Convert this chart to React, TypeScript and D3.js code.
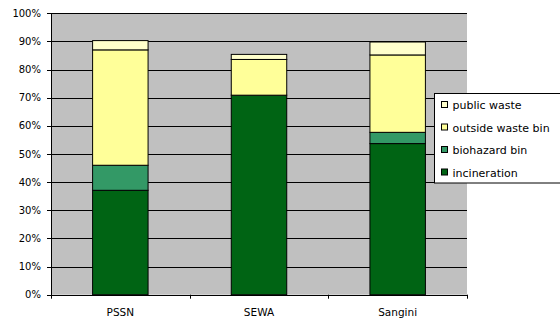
import React from "react";
import * as d3 from "d3";

const categories = ["PSSN", "SEWA", "Sangini"];
const seriesNames = ["incineration", "biohazard bin", "outside waste bin", "public waste"];
const incineration = [37.1, 70.9, 53.7];
const biohazardBin = [8.9, 0, 4.0];
const outsideWasteBin = [41.0, 12.7, 27.5];
const publicWaste = [3.3, 1.8, 4.6];
const yTicks = [0, 10, 20, 30, 40, 50, 60, 70, 80, 90, 100];
const colors = ["#006414", "#339966", "#FFFF99", "#FFFFCC"];

export default function App() {
  const W = 560, H = 320;
  const left = 51, right = 467, top = 13.3, bottom = 294.7;
  const x = d3.scaleBand<string>().domain(categories).range([left, right]).paddingInner(0.6).paddingOuter(0.3);
  const y = d3.scaleLinear().domain([0, 100]).range([bottom, top]);
  const rows = categories.map((c, i) => ({
    cat: c,
    incineration: incineration[i],
    "biohazard bin": biohazardBin[i],
    "outside waste bin": outsideWasteBin[i],
    "public waste": publicWaste[i],
  }));
  const stack = d3.stack<any>().keys(seriesNames)(rows);
  const step = (right - left) / categories.length;
  const font = "'DejaVu Sans', Verdana, sans-serif";
  const legendOrder = [3, 2, 1, 0];
  return (
    <svg width={W} height={H} style={{ position: "absolute", left: 0, top: 0 }} fontFamily={font}>
      <rect x={0} y={0} width={W} height={H} fill="#fff" />
      <rect x={left} y={top} width={right - left} height={bottom - top} fill="#C0C0C0" />
      {yTicks.map((t) => (
        <g key={t}>
          <line x1={left - 4} x2={right} y1={Math.round(y(t)) + 0.5} y2={Math.round(y(t)) + 0.5} stroke="#000" strokeWidth={1} />
          <text x={41} y={y(t) + 3.5} fontSize={10} textAnchor="end" fill="#000">{t}%</text>
        </g>
      ))}
      <line x1={left + 0.5} x2={left + 0.5} y1={top} y2={bottom + 4} stroke="#000" />
      {[1, 2, 3].map((k) => (
        <line key={k} x1={Math.round(left + k * step) + 0.5} x2={Math.round(left + k * step) + 0.5} y1={bottom} y2={bottom + 4} stroke="#000" />
      ))}
      {stack.map((s, si) =>
        s.map((d, i) =>
          d[1] - d[0] > 0 ? (
            <rect
              key={si + "-" + i}
              x={x(categories[i])!}
              y={y(d[1])}
              width={x.bandwidth()}
              height={y(d[0]) - y(d[1])}
              fill={colors[si]}
              stroke="#000"
              strokeWidth={1}
            />
          ) : null
        )
      )}
      {categories.map((c) => (
        <text key={c} x={x(c)! + x.bandwidth() / 2} y={315.5} fontSize={10.5} textAnchor="middle" fill="#000">{c}</text>
      ))}
      <rect x={434.5} y={93.5} width={130} height={89.5} fill="#fff" stroke="#000" />
      {legendOrder.map((si, r) => (
        <g key={si}>
          <rect x={441.5} y={101.5 + r * 22.5} width={6} height={6} fill={colors[si]} stroke="#000" />
          <text x={452.5} y={109 + r * 22.5} fontSize={11} fill="#000">{seriesNames[si]}</text>
        </g>
      ))}
    </svg>
  );
}
